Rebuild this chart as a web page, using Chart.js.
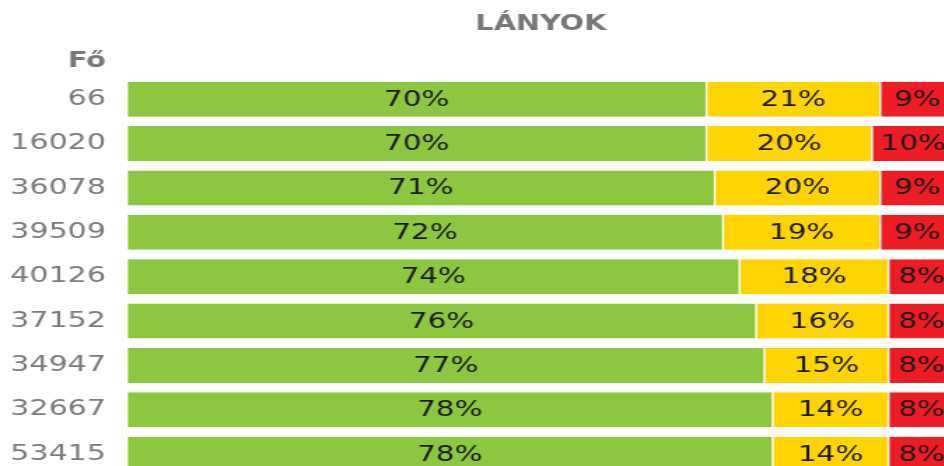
<!DOCTYPE html>
<html lang="hu">
<head>
  <meta charset="UTF-8">
  <title>Lányok</title>
  <script src="https://cdn.jsdelivr.net/npm/chart.js@4.4.1/dist/chart.umd.min.js"></script>
  <style>
  html, body {
    margin: 0;
    padding: 0;
    overflow: hidden;
    background: #fff;
  }
  /* the original picture is stretched sideways, so the whole chart is too */
  .chart-box {
    width: 682px;
    height: 480px;
    transform: scaleX(1.4);
    transform-origin: 0 0;
  }
  </style>
</head>
<body>
<div class="chart-box">
  <canvas id="lanyok" width="682" height="480"></canvas>
</div>

<script>
  var categories = ['66', '16020', '36078', '39509', '40126', '37152', '34947', '32667', '53415'];
  var greenValues = [70, 70, 71, 72, 74, 76, 77, 78, 78];
  var yellowValues = [21, 20, 20, 19, 18, 16, 15, 14, 14];
  var redValues = [9, 10, 9, 9, 8, 8, 8, 8, 8];
  var chartTitle = 'LÁNYOK';
  var axisHeader = 'Fő';

  var FONT = '"DejaVu Sans", Verdana, sans-serif';

  // percent text in the middle of every segment
  var segmentLabels = {
    id: 'segmentLabels',
    afterDatasetsDraw: function(chart) {
      var ctx = chart.ctx;
      ctx.save();
      ctx.font = '21px ' + FONT;
      ctx.fillStyle = '#1a1a1a';
      ctx.textAlign = 'center';
      ctx.textBaseline = 'middle';
      chart.data.datasets.forEach(function(ds, i) {
        var meta = chart.getDatasetMeta(i);
        meta.data.forEach(function(bar, j) {
          var p = bar.getProps(['x', 'y', 'base'], true);
          ctx.fillText(ds.data[j] + '%', (p.x + p.base) / 2, p.y + 1);
        });
      });
      ctx.restore();
    }
  };

  // title over the bars and the "Fő" header over the tick labels
  var headers = {
    id: 'headers',
    afterDraw: function(chart) {
      var ctx = chart.ctx;
      var area = chart.chartArea;
      var yScale = chart.scales.y;
      ctx.save();
      ctx.fillStyle = '#787878';
      ctx.textBaseline = 'alphabetic';
      ctx.font = 'bold 20.5px ' + FONT;
      ctx.textAlign = 'center';
      ctx.fillText(chartTitle, (area.left + area.right) / 2, 30);
      ctx.textAlign = 'right';
      ctx.fillText(axisHeader, yScale.right - yScale.options.ticks.padding, 66.5);
      ctx.restore();
    }
  };

  function barSet(label, values, color) {
    return {
      label: label,
      data: values,
      backgroundColor: color,
      borderColor: '#ffffff',
      borderWidth: {left: 0.7, right: 0.7, top: 0, bottom: 0},
      borderSkipped: false,
      categoryPercentage: 1,
      barPercentage: 0.79
    };
  }

  var ctx = document.getElementById('lanyok');
  new Chart(ctx, {
    type: 'bar',
    data: {
      labels: categories,
      datasets: [
        barSet('zöld', greenValues, '#8dc63f'),
        barSet('sárga', yellowValues, '#ffd400'),
        barSet('piros', redValues, '#ee1c25')
      ]
    },
    options: {
      indexAxis: 'y',
      responsive: false,
      animation: false,
      devicePixelRatio: 1,
      layout: {
        padding: {top: 77, bottom: 3.6, left: 0, right: 0}
      },
      scales: {
        x: {
          display: false,
          stacked: true,
          min: 0,
          max: 100
        },
        y: {
          stacked: true,
          grid: {display: false, drawTicks: false},
          border: {display: false},
          ticks: {
            padding: 15,
            color: '#7b7b7b',
            font: {family: FONT, size: 21.5}
          },
          afterFit: function(scale) {
            // fixed axis width, and no extra room kept for the end labels
            scale.width = 90.7;
            scale.paddingTop = 0;
            scale.paddingBottom = 0;
          }
        }
      },
      plugins: {
        legend: {display: false},
        title: {display: false},
        tooltip: {enabled: false}
      }
    },
    plugins: [segmentLabels, headers]
  });
</script>
</body>
</html>
